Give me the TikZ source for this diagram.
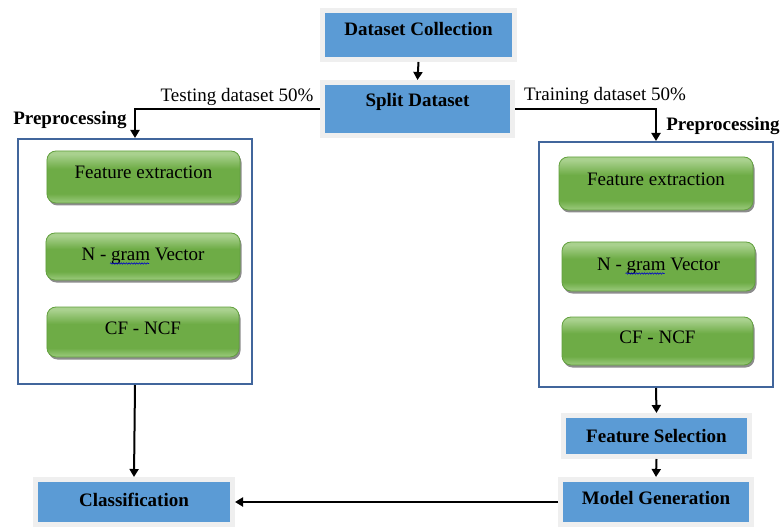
\documentclass[tikz,border=0pt]{standalone}
\usepackage{fontspec}
\setmainfont{Liberation Serif}
\usetikzlibrary{arrows.meta,shadows,decorations.pathmorphing}
\definecolor{boxblue}{HTML}{5B9BD5}
\definecolor{rimgray}{HTML}{EFEFEF}
\definecolor{frameblue}{HTML}{41669C}
\definecolor{gtop}{HTML}{A9D18E}
\definecolor{gmid}{HTML}{6EAC46}
\definecolor{gbot}{HTML}{9CCB7E}
\definecolor{gline}{HTML}{62A03E}
\pgfdeclareverticalshading{greenshade}{100bp}{color(0bp)=(gbot); color(25bp)=(gbot); color(34bp)=(gmid); color(58bp)=(gmid); color(72bp)=(gtop); color(100bp)=(gtop)}
\begin{document}
\begin{tikzpicture}[x=1bp,y=-1bp,
  fnt/.style={font=\fontsize{19bp}{22bp}\selectfont},
  bluebox/.style={font=\fontsize{19bp}{22bp}\selectfont\bfseries,fill=boxblue,draw=rimgray,line width=5bp,inner sep=0pt,text height=13bp,
    drop shadow={shadow xshift=2.5bp,shadow yshift=-2.5bp,fill=black!25,opacity=0.7}},
  greenbox/.style={fnt,rounded corners=9bp,draw=gline,line width=0.8bp,shading=greenshade,inner sep=0pt,text height=13bp,text depth=9bp,
    drop shadow={shadow xshift=1.5bp,shadow yshift=-2.5bp,fill=black!75,opacity=0.6}},
  frame/.style={draw=frameblue,line width=2bp,fill=white,inner sep=0pt},
  arr/.style={draw=black,line width=2bp,-{Triangle[length=8bp,width=9bp]}},
  wavy/.style={draw=blue!80!black,line width=0.6bp,decorate,decoration={snake,amplitude=0.7bp,segment length=2.6bp}},
  lbl/.style={fnt,inner sep=0pt},
  lblb/.style={font=\fontsize{19bp}{22bp}\selectfont\bfseries,inner sep=0pt}]
\useasboundingbox (0,0) rectangle (782,529);
\fill[white] (0,0) rectangle (782,529);

% frames
\node[frame,minimum width=234bp,minimum height=245bp] (boxL) at (135,261.5) {};
\node[frame,minimum width=234bp,minimum height=245bp] (boxR) at (656,264.5) {};

% blue boxes
\node[bluebox,minimum width=192bp,minimum height=49bp,text depth=11bp] (dc) at (418.5,35) {Dataset Collection};
\node[bluebox,minimum width=190bp,minimum height=53bp,text depth=17bp] (split) at (417.5,109) {Split Dataset};
\node[bluebox,minimum width=186bp,minimum height=41bp,text depth=1bp] (fs) at (656.5,436) {Feature Selection};
\node[bluebox,minimum width=191bp,minimum height=45bp,text depth=9bp] (mg) at (656,502) {Model Generation};
\node[bluebox,minimum width=197bp,minimum height=45bp,text depth=5bp] (cls) at (134,502) {Classification};

% green boxes
\node[greenbox,minimum width=193bp,minimum height=52bp] (feL) at (143.5,177) {Feature extraction};
\node[greenbox,minimum width=194bp,minimum height=47bp,text depth=5bp] (ngL) at (143,256.5) {N - gram Vector};
\node[greenbox,minimum width=192bp,minimum height=50bp] (cfL) at (143,332) {CF - NCF};
\node[greenbox,minimum width=194bp,minimum height=53bp] (feR) at (656,183.5) {Feature extraction};
\node[greenbox,minimum width=193bp,minimum height=49bp,text depth=5bp] (ngR) at (658.5,266.5) {N - gram Vector};
\node[greenbox,minimum width=191bp,minimum height=48bp] (cfR) at (657.5,341) {CF - NCF};

% spell-check underlines under "gram"
\draw[wavy] ([shift={(-33,7)}]ngL.center) -- ([shift={(6,7)}]ngL.center);
\draw[wavy] ([shift={(-33,7)}]ngR.center) -- ([shift={(6,7)}]ngR.center);

% labels
\node[lbl] (tst) at (237,97) {Testing dataset 50\%};
\node[lbl] (trn) at (605,96) {Training dataset 50\%};
\node[lblb] (ppL) at (70,120) {Preprocessing};
\node[lblb] (ppR) at (723,126) {Preprocessing};

% connectors
\draw[arr] (dc.south) -- (split.north);
\draw[arr] (split.west) -| (boxL.north);
\draw[arr] (split.east) -| (boxR.north);
\draw[arr] (boxL.south) -- (cls.north);
\draw[arr] (boxR.south) -- (fs.north);
\draw[arr] (fs.south) -- (mg.north);
\draw[arr] (mg.west) -- (cls.east);
\end{tikzpicture}
\end{document}
